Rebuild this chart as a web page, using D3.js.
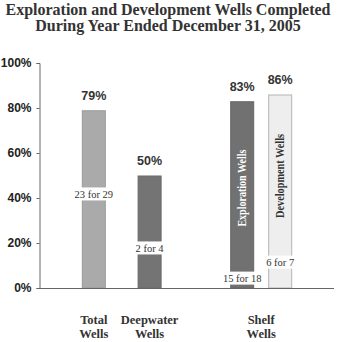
<!DOCTYPE html>
<html>
<head>
<meta charset="utf-8">
<script src="https://cdn.jsdelivr.net/npm/d3@7"></script>
<style>
  html, body { margin: 0; padding: 0; background: #fff; }
  svg { display: block; }
</style>
</head>
<body>
<svg id="chart" width="337" height="342"></svg>
<script>
// ---- data ----
const titleLines = ["Exploration and Development Wells Completed", "During Year Ended December 31, 2005"];
const groupSlots = ["Total Wells", "Deepwater Wells", "gap", "Shelf Wells"];
const groupLabels = [["Total", "Wells"], ["Deepwater", "Wells"], ["Shelf", "Wells"]];
const groupKeys = ["Total Wells", "Deepwater Wells", "Shelf Wells"];
const bars = ["Total Wells", "Deepwater Wells", "Exploration Wells", "Development Wells"];
const barGroup = ["Total Wells", "Deepwater Wells", "Shelf Wells", "Shelf Wells"];
const subBars = ["Exploration Wells", "Development Wells"];
const values = [79, 50, 83, 86];
const valueLabels = ["79%", "50%", "83%", "86%"];
const countLabels = ["23 for 29", "2 for 4", "15 for 18", "6 for 7"];
const countLabelLevel = [41.8, 17.8, 4.4, 11.5];
const innerLabels = ["", "", "Exploration Wells", "Development Wells"];
const innerLabelLevel = [0, 0, 44.4, 49.8];
const yTicks = [0, 20, 40, 60, 80, 100];

// ---- styles ----
const fills = ["#aaaaaa", "#747474", "#717171", "#eeeeee"];
const strokes = ["#9a9a9a", "#6a6a6a", "#666666", "#b4b4b4"];
const innerColors = ["#fff", "#fff", "#ffffff", "#333333"];
const innerLengths = [0, 0, 77, 84];
const serif = "'Liberation Serif', 'Times New Roman', serif";
const sans = "'Liberation Sans', Arial, sans-serif";

const svg = d3.select("#chart");

const y = d3.scaleLinear().domain([0, 100]).range([288, 63]);
const xg = d3.scalePoint().domain(groupSlots).range([38, 317]).padding(1);
const xs = d3.scalePoint().domain(subBars).range([-19, 19]);
const barW = 24;
function cx(i) {
  const g = xg(barGroup[i]);
  return subBars.includes(bars[i]) ? g + xs(bars[i]) : g;
}

// title
svg.append("g").selectAll("text").data(titleLines).join("text")
  .attr("x", 168).attr("y", (d, i) => 15 + i * 16)
  .attr("text-anchor", "middle")
  .attr("font-family", serif).attr("font-weight", "bold").attr("font-size", 16)
  .attr("fill", "#333").text(d => d);

// y axis
const yAxis = d3.axisLeft(y).tickValues(yTicks).tickFormat(d => d + "%").tickSize(3).tickPadding(5);
const ga = svg.append("g").attr("transform", "translate(39.5,0)").call(yAxis);
ga.select(".domain").attr("stroke", "#666");
ga.selectAll(".tick line").attr("stroke", "#666");
ga.selectAll(".tick text").attr("font-family", sans).attr("font-weight", "bold")
  .attr("font-size", 12).attr("fill", "#222");

// bars
const idx = d3.range(bars.length);
svg.append("g").selectAll("rect").data(idx).join("rect")
  .attr("x", i => cx(i) - barW / 2 + 0.5)
  .attr("y", i => y(values[i]) + 0.5)
  .attr("width", barW - 1)
  .attr("height", i => y(0) - y(values[i]) - 0.5)
  .attr("fill", i => fills[i]).attr("stroke", i => strokes[i]).attr("stroke-width", 1);

// baseline
svg.append("line").attr("x1", 39.5).attr("x2", 334).attr("y1", y(0) + 0.5).attr("y2", y(0) + 0.5)
  .attr("stroke", "#666");

// value labels
svg.append("g").selectAll("text").data(idx).join("text")
  .attr("x", i => cx(i)).attr("y", i => y(values[i]) - 10.5)
  .attr("text-anchor", "middle")
  .attr("font-family", sans).attr("font-weight", "bold").attr("font-size", 12.5)
  .attr("fill", "#333").text(i => valueLabels[i]);

// count labels with white boxes
const cg = svg.append("g");
cg.selectAll("rect").data(idx).join("rect")
  .attr("x", i => cx(i) - barW / 2 - 1)
  .attr("y", i => y(countLabelLevel[i]) - 6.5)
  .attr("width", barW + 2).attr("height", 13)
  .attr("fill", "#fff");
cg.selectAll("text").data(idx).join("text")
  .attr("x", i => cx(i)).attr("y", i => y(countLabelLevel[i]) + 3.7)
  .attr("text-anchor", "middle")
  .attr("font-family", serif).attr("font-size", 10.5)
  .attr("fill", "#333").text(i => countLabels[i]);

// rotated labels in shelf bars
svg.append("g").selectAll("text").data(idx.filter(i => innerLabels[i])).join("text")
  .attr("transform", i => `translate(${cx(i) + 4.2},${y(innerLabelLevel[i])}) rotate(-90)`)
  .attr("text-anchor", "middle")
  .attr("font-family", serif).attr("font-weight", "bold").attr("font-size", 11.5)
  .attr("textLength", i => innerLengths[i]).attr("lengthAdjust", "spacingAndGlyphs")
  .attr("fill", i => innerColors[i]).text(i => innerLabels[i]);

// category labels
const gl = svg.append("g").selectAll("text").data(groupKeys).join("text")
  .attr("text-anchor", "middle")
  .attr("font-family", serif).attr("font-weight", "bold").attr("font-size", 12.5)
  .attr("fill", "#333");
gl.each(function (d, i) {
  d3.select(this).selectAll("tspan").data(groupLabels[i]).join("tspan")
    .attr("x", xg(d)).attr("y", (t, j) => 323.5 + j * 14).text(t => t);
});
</script>
</body>
</html>
